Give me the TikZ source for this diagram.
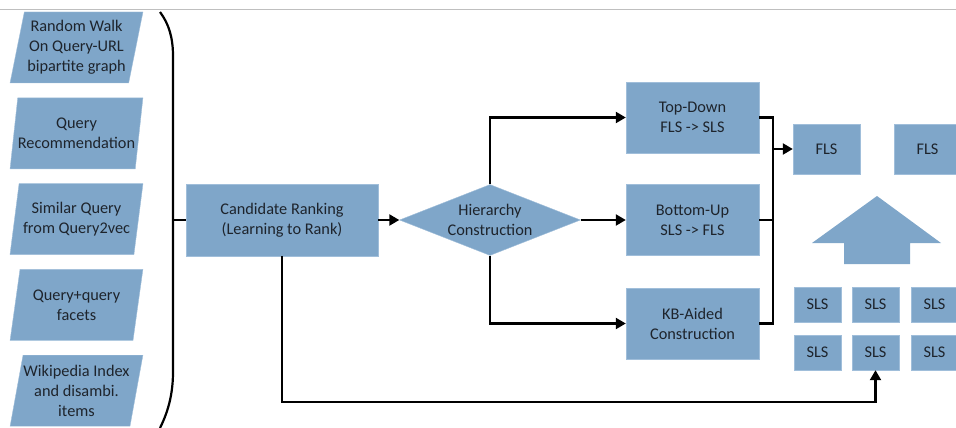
\documentclass[tikz,border=0pt]{standalone}
\usepackage{fontspec}
\setmainfont{Carlito}
\usetikzlibrary{shapes,arrows.meta,calc}
\definecolor{boxblue}{RGB}{127,166,201}
\definecolor{boxedge}{RGB}{160,190,218}
\definecolor{txt}{RGB}{30,36,44}
\tikzstyle{blk}=[draw=boxedge,fill=boxblue,text=txt,align=center,
                 font=\fontsize{16.3}{20}\selectfont]
\tikzstyle{src}=[blk,trapezium,trapezium left angle=76,trapezium right angle=104,
                 trapezium stretches=true,minimum width=133pt,minimum height=71pt,
                 inner sep=0pt]
\tikzstyle{stage}=[blk,rectangle,minimum width=133pt,minimum height=71pt,inner sep=0pt]
\tikzstyle{lvl}=[blk,rectangle,inner sep=0pt]
\tikzstyle{line}=[line width=2.2pt,black]
\tikzstyle{arr}=[line,-{Triangle[length=10pt,width=11pt]}]

\begin{document}
\begin{tikzpicture}[x=1pt,y=-1pt]
    \useasboundingbox (0,0) rectangle (956,428);
    \draw[black!25,line width=0.8pt] (0,9) -- (956,9);

    % candidate sources
    \node[src] (walk) at (76.5,47.5) {Random Walk\\On Query-URL\\bipartite graph};
    \node[src,below of=walk,node distance=85.8pt] (rec) {Query\\Recommendation};
    \node[src,below of=rec,node distance=85.8pt] (q2v) {Similar Query\\from Query2vec};
    \node[src,below of=q2v,node distance=85.8pt] (facet) {Query+query\\facets};
    \node[src,below of=facet,node distance=85.8pt] (wiki) {Wikipedia Index\\and disambi.\\items};

    % brace
    \draw[line] (160,12) .. controls (169,24) and (173,38) .. (173,56) -- (173,372)
        .. controls (173,392) and (169,410) .. (160,428);
    \coordinate (brace) at (173,220);

    \node[stage,minimum width=192pt,minimum height=72pt] (rank) at (282,220) {Candidate Ranking\\(Learning to Rank)};
    \node[blk,diamond,aspect=2.55,inner sep=-4pt,minimum width=181pt,minimum height=71pt,
          right of=rank,node distance=208pt] (hier) {Hierarchy\\Construction};

    \node[stage] (topdown) at (692.5,117.5) {Top-Down\\FLS -> SLS};
    \node[stage,below of=topdown,node distance=102.5pt] (bottomup) {Bottom-Up\\SLS -> FLS};
    \node[stage,below of=bottomup,node distance=103.5pt] (kb) {KB-Aided\\Construction};

    % levels
    \node[lvl,minimum width=67pt,minimum height=50pt] (fls1) at (826.5,149) {FLS};
    \node[lvl,minimum width=67pt,minimum height=50pt,right of=fls1,node distance=101pt] (fls2) {FLS};
    \foreach \c/\x in {1/817.5,2/875.5,3/934.5}
      \foreach \r/\y in {1/304.5,2/352.5}
        \node[lvl,minimum width=47pt,minimum height=35pt] (sls\r\c) at (\x,\y) {SLS};
    \fill[boxblue] (877,196) -- (941,243) -- (910,243) -- (910,264) -- (844,264)
        -- (844,243) -- (812,243) -- cycle;

    \coordinate (bus) at (773,149);
    \coordinate (low) at (282,402);

    \draw[line] (brace) -- (rank);
    \draw[arr] (rank) -- (hier);
    \draw[arr] (hier.north) |- (topdown);
    \draw[arr] (hier) -- (bottomup);
    \draw[arr] (hier.south) |- (kb);
    \draw[line] (topdown) -| (bus);
    \draw[line] (kb) -| (bus);
    \draw[line] (bottomup) -- (bottomup -| bus);
    \draw[arr] (bus) -- (fls1);
    \draw[arr] (rank) -- (low) -| (sls22);
\end{tikzpicture}
\end{document}
